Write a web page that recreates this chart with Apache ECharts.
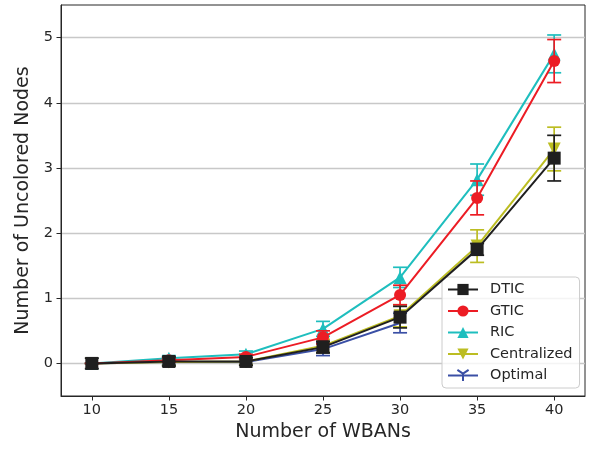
<!DOCTYPE html>
<html>
<head>
<meta charset="utf-8">
<script src="https://cdn.jsdelivr.net/npm/echarts@6/dist/echarts.min.js"></script>
<style>
  html, body { margin: 0; padding: 0; background: #fff; }
  #chart { width: 600px; height: 449px; }
</style>
</head>
<body>
<div id="chart"></div>
<script>
// Uncolored nodes vs. number of WBANs (mean ± std)
const wbans = [10, 15, 20, 25, 30, 35, 40];
const optimalWbans = [10, 15, 20, 25, 30];
const tickValuesX = [10, 15, 20, 25, 30, 35, 40];
const tickValuesY = [0, 1, 2, 3, 4, 5];

const dticMean = [0, 0.03, 0.03, 0.25, 0.71, 1.75, 3.15];
const dticErr = [0.08, 0.07, 0.06, 0.09, 0.165, 0.09, 0.35];
const gticMean = [0, 0.05, 0.10, 0.40, 1.05, 2.54, 4.64];
const gticErr = [0, 0.03, 0.04, 0.10, 0.15, 0.26, 0.33];
const ricMean = [0, 0.08, 0.14, 0.53, 1.32, 2.82, 4.75];
const ricErr = [0, 0.04, 0.05, 0.115, 0.155, 0.24, 0.29];
const centralizedMean = [0, 0.02, 0.03, 0.27, 0.73, 1.80, 3.29];
const centralizedErr = [0, 0.05, 0.05, 0.10, 0.17, 0.25, 0.335];
const optimalMean = [0, 0.02, 0.02, 0.22, 0.62];
const optimalErr = [0, 0.04, 0.04, 0.10, 0.15];

const FONT = 'DejaVu Sans';
const INK = '#262626';

// "tri_down" marker: three strokes meeting in the centre
const triDown = 'path://M5 5L5 10M5 5L0.67 2.5M5 5L9.33 2.5';

const specs = [
  { name: 'Optimal', xs: optimalWbans, mean: optimalMean, err: optimalErr, color: '#3a4fa5',
    symbol: triDown, size: 11, rotate: 0, stroke: true },
  { name: 'Centralized', xs: wbans, mean: centralizedMean, err: centralizedErr, color: '#bcbd22',
    symbol: 'triangle', size: 13, rotate: 180 },
  { name: 'RIC', xs: wbans, mean: ricMean, err: ricErr, color: '#1ebebe',
    symbol: 'triangle', size: 13, rotate: 0 },
  { name: 'GTIC', xs: wbans, mean: gticMean, err: gticErr, color: '#ec1c24',
    symbol: 'circle', size: 12, rotate: 0 },
  { name: 'DTIC', xs: wbans, mean: dticMean, err: dticErr, color: '#1f1f1f',
    symbol: 'rect', size: 13, rotate: 0 }
];

function errorBarRenderer(color) {
  return function (params, api) {
    const x = api.value(0);
    const lo = api.coord([x, api.value(1)]);
    const hi = api.coord([x, api.value(2)]);
    const w = 7;
    const style = { stroke: color, lineWidth: 1.7 };
    return {
      type: 'group',
      children: [
        { type: 'line', shape: { x1: lo[0], y1: lo[1], x2: hi[0], y2: hi[1] }, style: style },
        { type: 'line', shape: { x1: lo[0] - w, y1: lo[1], x2: lo[0] + w, y2: lo[1] }, style: style },
        { type: 'line', shape: { x1: hi[0] - w, y1: hi[1], x2: hi[0] + w, y2: hi[1] }, style: style }
      ]
    };
  };
}

const series = [];
specs.forEach(function (s, i) {
  const z = 2 + i * 2;
  series.push({
    name: s.name + ' std',
    type: 'custom',
    renderItem: errorBarRenderer(s.color),
    data: s.xs.map(function (x, k) { return [x, s.mean[k] - s.err[k], s.mean[k] + s.err[k]]; }),
    encode: { x: 0, y: [1, 2] },
    z: z,
    silent: true
  });
  series.push({
    name: s.name,
    type: 'line',
    data: s.xs.map(function (x, k) { return [x, s.mean[k]]; }),
    symbol: s.symbol,
    symbolSize: s.size,
    symbolRotate: s.rotate,
    showAllSymbol: true,
    lineStyle: { color: s.color, width: 2 },
    itemStyle: s.stroke
      ? { color: 'rgba(0,0,0,0)', borderColor: s.color, borderWidth: 1.7 }
      : { color: s.color, borderWidth: 0 },
    emphasis: { disabled: true },
    z: z + 1
  });
});

const chart = echarts.init(document.getElementById('chart'), null, { renderer: 'canvas' });
chart.setOption({
  animation: false,
  backgroundColor: '#ffffff',
  grid: {
    left: 61, right: 15, top: 5, bottom: 53,
    show: true, borderColor: INK, borderWidth: 1, backgroundColor: 'transparent',
    containLabel: false, outerBoundsMode: 'none'
  },
  xAxis: {
    type: 'value', min: 8, max: 42,
    name: 'Number of WBANs', nameLocation: 'middle', nameGap: 26,
    nameTextStyle: { fontFamily: FONT, fontSize: 19, color: INK },
    axisLine: { show: true, onZero: false, lineStyle: { color: INK, width: 1 } },
    axisTick: { show: true, inside: false, customValues: tickValuesX, length: 4.5, lineStyle: { color: INK, width: 1 } },
    axisLabel: { customValues: tickValuesX, margin: 7, fontFamily: FONT, fontSize: 14.5, color: INK },
    splitLine: { show: false }
  },
  yAxis: {
    type: 'value', min: -0.5, max: 5.5,
    name: 'Number of Uncolored Nodes', nameLocation: 'middle', nameGap: 25,
    nameTextStyle: { fontFamily: FONT, fontSize: 19, color: INK },
    axisLine: { show: true, onZero: false, lineStyle: { color: INK, width: 1 } },
    axisTick: { show: true, inside: false, customValues: tickValuesY, length: 4.5, lineStyle: { color: INK, width: 1 } },
    axisLabel: { customValues: tickValuesY, margin: 8, fontFamily: FONT, fontSize: 14.5, color: INK },
    splitLine: { show: true, lineStyle: { color: '#c8c8c8', width: 1.3 } }
  },
  legend: {
    data: ['DTIC', 'GTIC', 'RIC', 'Centralized', 'Optimal'],
    orient: 'vertical',
    left: 442, top: 277,
    padding: [5, 7, 5, 5],
    itemWidth: 30, itemHeight: 14, itemGap: 6.5,
    backgroundColor: 'rgba(255,255,255,0.8)',
    borderColor: '#cccccc', borderWidth: 1, borderRadius: 4,
    selectedMode: false,
    textStyle: { fontFamily: FONT, fontSize: 14.5, color: INK, padding: [0, 0, 0, 7] }
  },
  series: series
});
</script>
</body>
</html>
